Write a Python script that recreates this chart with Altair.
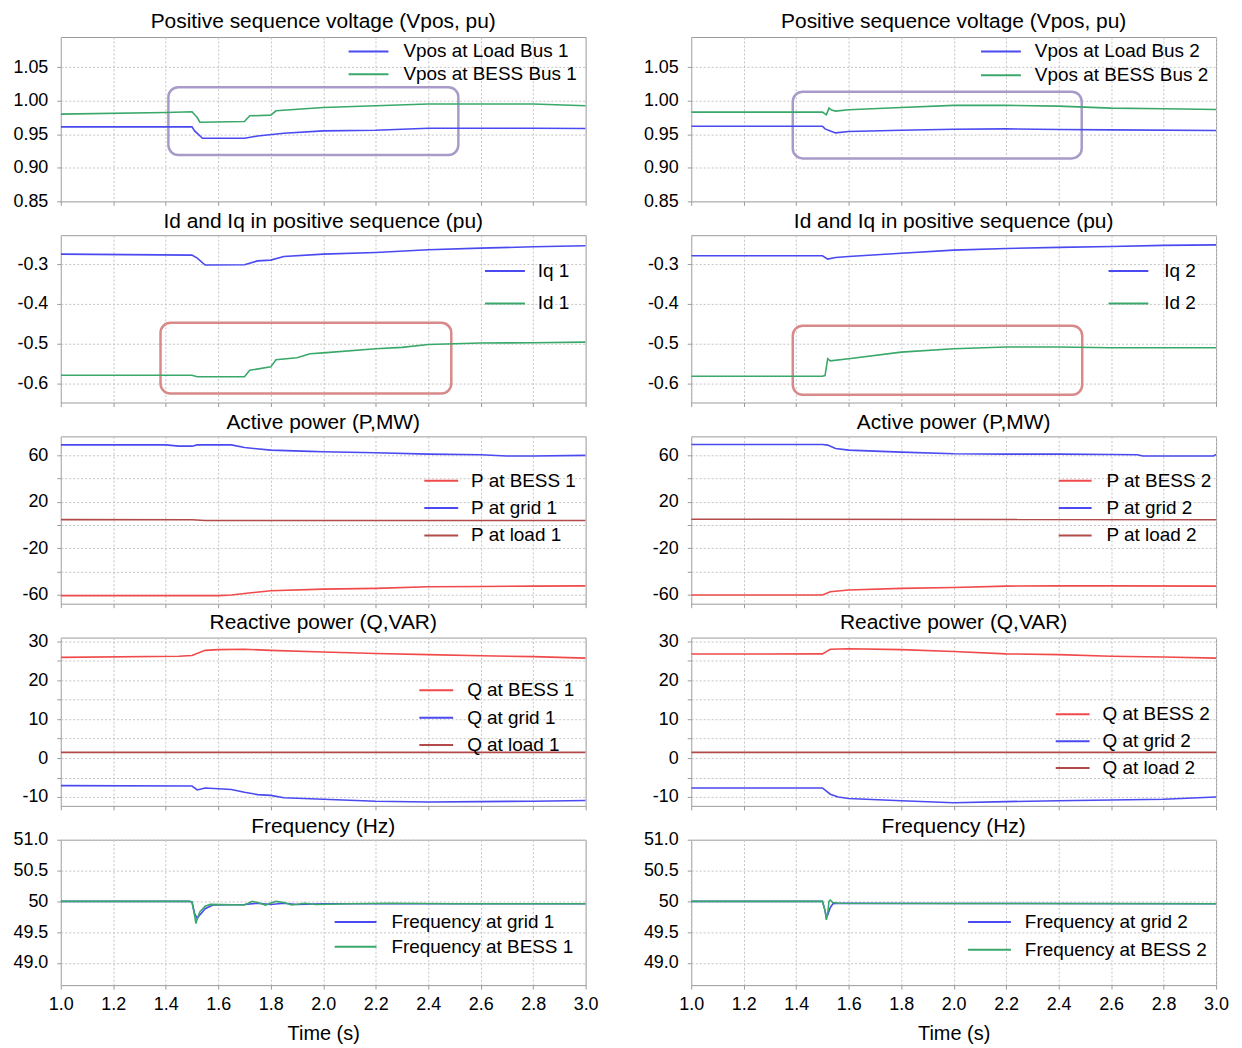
import altair as alt
import pandas as pd

FONT = "Liberation Sans"
BLUE = "#4a4af0"
GREEN = "#3aa86a"
RED = "#f04a4a"
DRED = "#b24a4a"
BOX_P = "#a99bc9"
BOX_R = "#d88a8a"
MINUS = "\u2212"

x_ticks = [1.0, 1.2, 1.4, 1.6, 1.8, 2.0, 2.2, 2.4, 2.6, 2.8, 3.0]

# ---------------- Positive sequence voltage ----------------
t_vl1 = [1.0, 1.5, 1.51, 1.54, 1.70, 1.75, 1.85, 2.0, 2.2, 2.4, 2.6, 2.8, 3.0]
v_load1 = [0.961, 0.961, 0.955, 0.944, 0.944, 0.9475, 0.9515, 0.955, 0.956, 0.959, 0.959, 0.959, 0.9585]
t_vb1 = [1.0, 1.4, 1.5, 1.52, 1.53, 1.70, 1.72, 1.80, 1.82, 2.0, 2.2, 2.4, 2.6, 2.8, 3.0]
v_bess1 = [0.980, 0.9825, 0.9835, 0.975, 0.968, 0.969, 0.9775, 0.9785, 0.985, 0.990, 0.9925, 0.995, 0.995, 0.995, 0.9925]

t_vl2 = [1.0, 1.5, 1.51, 1.53, 1.55, 1.6, 1.8, 2.0, 2.2, 2.4, 2.6, 3.0]
v_load2 = [0.962, 0.962, 0.958, 0.955, 0.952, 0.954, 0.956, 0.9575, 0.958, 0.957, 0.9565, 0.9555]
t_vb2 = [1.0, 1.5, 1.515, 1.525, 1.535, 1.55, 1.6, 1.8, 2.0, 2.2, 2.4, 2.6, 2.8, 3.0]
v_bess2 = [0.983, 0.983, 0.979, 0.989, 0.986, 0.9845, 0.9865, 0.990, 0.993, 0.993, 0.992, 0.989, 0.988, 0.987]

# ---------------- Id / Iq ----------------
t_iq1 = [1.0, 1.5, 1.52, 1.55, 1.7, 1.75, 1.8, 1.85, 2.0, 2.2, 2.4, 2.6, 2.8, 3.0]
iq1 = [-0.275, -0.2775, -0.285, -0.3025, -0.3017, -0.292, -0.290, -0.281, -0.275, -0.271, -0.2642, -0.26, -0.2567, -0.254]
t_id1 = [1.0, 1.5, 1.52, 1.7, 1.72, 1.8, 1.82, 1.9, 1.95, 2.0, 2.2, 2.3, 2.4, 2.5, 2.6, 2.8, 3.0]
id1 = [-0.579, -0.579, -0.583, -0.583, -0.5667, -0.558, -0.54, -0.535, -0.525, -0.523, -0.5125, -0.509, -0.502, -0.50, -0.4983, -0.4975, -0.496]

t_iq2 = [1.0, 1.5, 1.52, 1.55, 1.6, 1.8, 2.0, 2.2, 2.4, 2.6, 2.8, 3.0]
iq2 = [-0.279, -0.279, -0.2875, -0.2833, -0.2808, -0.273, -0.265, -0.261, -0.258, -0.256, -0.253, -0.2517]
t_id2 = [1.0, 1.5, 1.51, 1.52, 1.53, 1.6, 1.8, 2.0, 2.2, 2.4, 2.6, 2.8, 3.0]
id2 = [-0.5817, -0.5817, -0.58, -0.5375, -0.543, -0.5375, -0.521, -0.5125, -0.5083, -0.5083, -0.51, -0.51, -0.51]

# ---------------- Active power ----------------
t_pb1 = [1.0, 1.6, 1.65, 1.7, 1.8, 2.0, 2.2, 2.4, 2.6, 2.8, 3.0]
p_bess1 = [-60.6, -60.6, -60.0, -58.7, -56.4, -55.0, -54.4, -53.0, -52.7, -52.4, -52.2]
t_pg1 = [1.0, 1.4, 1.45, 1.5, 1.52, 1.65, 1.7, 1.8, 1.95, 2.0, 2.2, 2.4, 2.6, 2.7, 2.8, 3.0]
p_grid1 = [68.7, 68.7, 67.6, 67.6, 68.7, 68.7, 66.4, 64.2, 63.1, 62.8, 62.0, 60.8, 60.3, 59.2, 59.2, 59.7]
t_pl1 = [1.0, 1.5, 1.55, 3.0]
p_load1 = [4.6, 4.5, 3.9, 3.9]

t_pb2 = [1.0, 1.5, 1.53, 1.6, 1.8, 2.0, 2.2, 2.4, 2.6, 3.0]
p_bess2 = [-60.0, -60.0, -57.2, -55.8, -54.4, -53.6, -52.4, -52.2, -52.2, -52.4]
t_pg2 = [1.0, 1.5, 1.52, 1.55, 1.6, 1.8, 2.0, 2.2, 2.4, 2.6, 2.7, 2.72, 2.99, 3.0]
p_grid2 = [69.0, 69.0, 68.5, 65.6, 64.2, 62.5, 61.1, 60.8, 60.8, 60.5, 60.3, 59.2, 59.2, 60.4]
t_pl2 = [1.0, 3.0]
p_load2 = [4.9, 4.6]

# ---------------- Reactive power ----------------
t_qb1 = [1.0, 1.45, 1.5, 1.55, 1.6, 1.7, 1.8, 2.0, 2.2, 2.4, 2.6, 2.8, 3.0]
q_bess1 = [25.9, 26.2, 26.4, 27.7, 27.9, 28.0, 27.7, 27.3, 26.9, 26.6, 26.3, 26.1, 25.7]
t_qg1 = [1.0, 1.5, 1.52, 1.55, 1.6, 1.65, 1.7, 1.75, 1.8, 1.85, 2.0, 2.2, 2.4, 2.6, 2.8, 3.0]
q_grid1 = [-7.1, -7.2, -8.2, -7.7, -7.9, -8.1, -8.8, -9.4, -9.6, -10.2, -10.6, -11.1, -11.3, -11.2, -11.1, -10.9]
t_ql1 = [1.0, 3.0]
q_load1 = [1.45, 1.45]

t_qb2 = [1.0, 1.5, 1.53, 1.6, 1.8, 2.0, 2.2, 2.4, 2.6, 2.8, 3.0]
q_bess2 = [26.75, 26.8, 28.0, 28.1, 27.9, 27.4, 26.8, 26.6, 26.2, 26.0, 25.7]
t_qg2 = [1.0, 1.5, 1.53, 1.56, 1.6, 1.8, 2.0, 2.2, 2.4, 2.6, 2.8, 3.0]
q_grid2 = [-7.7, -7.7, -9.3, -10.0, -10.4, -11.0, -11.5, -11.2, -11.0, -10.8, -10.6, -10.0]
t_ql2 = [1.0, 3.0]
q_load2 = [1.45, 1.45]

# ---------------- Frequency ----------------
t_fg1 = [1.0, 1.49, 1.5, 1.51, 1.52, 1.53, 1.55, 1.58, 1.7, 1.75, 1.8, 1.85, 1.9, 2.0, 2.5, 3.0]
f_grid1 = [50.0, 50.0, 49.99, 49.8, 49.72, 49.78, 49.88, 49.94, 49.95, 49.97, 49.95, 49.97, 49.95, 49.96, 49.96, 49.96]
t_fb1 = [1.0, 1.49, 1.5, 1.51, 1.515, 1.52, 1.53, 1.55, 1.57, 1.7, 1.73, 1.75, 1.78, 1.82, 1.85, 1.88, 1.93, 1.97, 2.1, 2.25, 2.5, 3.0]
f_bess1 = [50.0, 50.0, 49.99, 49.77, 49.64, 49.72, 49.83, 49.92, 49.95, 49.94, 50.0, 49.98, 49.94, 50.0, 49.98, 49.94, 49.97, 49.95, 49.96, 49.97, 49.96, 49.96]

t_fg2 = [1.0, 1.5, 1.51, 1.515, 1.52, 1.53, 1.54, 1.56, 2.0, 3.0]
f_grid2 = [50.0, 50.0, 49.85, 49.74, 49.78, 49.9, 49.96, 49.97, 49.965, 49.96]
t_fb2 = [1.0, 1.5, 1.51, 1.515, 1.52, 1.525, 1.53, 1.54, 1.56, 2.0, 3.0]
f_bess2 = [50.0, 50.0, 49.85, 49.70, 49.80, 50.0, 50.02, 49.98, 49.97, 49.965, 49.96]

# annotation boxes (time from, time to, value low, value high)
box_v1 = [1.41, 2.515, 0.919, 1.020]
box_v2 = [1.387, 2.488, 0.914, 1.0135]
box_i1 = [1.38, 2.488, -0.625, -0.4475]
box_i2 = [1.387, 2.49, -0.628, -0.455]


def panel(title, series, ydom, yaxis_kw, height, leg, title_offset,
          bottom=False, box=None, box_color=None):
    names = [s[0] for s in series]
    colors = [s[3] for s in series]
    cscale = alt.Scale(domain=names, range=colors)
    if bottom:
        xaxis = alt.Axis(values=x_ticks, grid=True, labels=True, format=".1f",
                         title="Time (s)", titleFontSize=20, titleFont=FONT,
                         titleFontWeight="normal", titleColor="black",
                         titlePadding=11, labelPadding=6, labelFlush=False)
    else:
        xaxis = alt.Axis(values=x_ticks, grid=True, labels=False, title=None)
    yaxis = alt.Axis(title=None, grid=True, labelPadding=9, **yaxis_kw)
    xs = alt.Scale(domain=[1.0, 3.0], nice=False, zero=False)
    ys = alt.Scale(domain=ydom, nice=False, zero=False)
    legend = alt.Legend(
        orient="none", legendX=leg["x"], legendY=leg["y"], title=None,
        symbolType="stroke", symbolSize=leg["size"], symbolStrokeWidth=2,
        labelFontSize=19, labelFont=FONT, labelColor="black",
        labelOffset=leg["lo"], rowPadding=leg["rp"], padding=0,
        symbolOffset=0, direction="vertical", labelLimit=400, clipHeight=19,
    )
    layers = []
    if box is not None:
        bdf = pd.DataFrame({"t": [box[0]], "t2": [box[1]], "v": [box[2]], "v2": [box[3]]})
        layers.append(
            alt.Chart(bdf).mark_rect(fillOpacity=0, stroke=box_color, strokeWidth=2.5,
                                     cornerRadius=10).encode(
                x=alt.X("t:Q", scale=xs, axis=xaxis), x2="t2:Q",
                y=alt.Y("v:Q", scale=ys, axis=yaxis), y2="v2:Q")
        )
    for name, ts, vs, col, w in series:
        df = pd.DataFrame({"t": ts, "v": vs, "s": [name] * len(ts)})
        layers.append(
            alt.Chart(df).mark_line(strokeWidth=w, clip=True).encode(
                x=alt.X("t:Q", scale=xs, axis=xaxis),
                y=alt.Y("v:Q", scale=ys, axis=yaxis),
                color=alt.Color("s:N", scale=cscale, legend=legend, sort=names),
            )
        )
    return alt.layer(*layers).properties(
        width=527, height=height,
        title=alt.TitleParams(text=title, fontSize=21, font=FONT, fontWeight="normal",
                              color="black", anchor="middle", frame="group",
                              baseline="bottom", offset=title_offset),
    )


vpos_ax = dict(values=[0.85, 0.90, 0.95, 1.00, 1.05], format=".2f")
id_ax = dict(values=[-0.6, -0.5, -0.4, -0.3],
             labelExpr=f"replace(format(datum.value, '.1f'), '{MINUS}', '-')")
p_ax = dict(values=[-60, -40, -20, 0, 20, 40, 60],
            labelExpr=f"abs(datum.value) % 40 == 20 ? replace(datum.label, '{MINUS}', '-') : ''")
q_ax = dict(values=[-10, -5, 0, 5, 10, 15, 20, 25, 30],
            labelExpr=f"datum.value % 10 == 0 ? replace(datum.label, '{MINUS}', '-') : ''")
f_ax = dict(values=[49.0, 49.5, 50.0, 50.5, 51.0],
            labelExpr="datum.value == 50 ? '50' : format(datum.value, '.1f')")

H = [165, 168, 168, 169, 146]
TOFF = [-16, -18, -18, -22, -27]
ID_DOM = [-0.6475, -0.2275]

L = [
    panel("Positive sequence voltage (Vpos, pu)",
          [("Vpos at Load Bus 1", t_vl1, v_load1, BLUE, 1.6),
           ("Vpos at BESS Bus 1", t_vb1, v_bess1, GREEN, 1.6)],
          [0.85, 1.095], vpos_ax, H[0],
          dict(x=288, y=5, size=1600, lo=14, rp=3), TOFF[0], box=box_v1, box_color=BOX_P),
    panel("Id and Iq in positive sequence (pu)",
          [("Iq 1", t_iq1, iq1, BLUE, 1.6), ("Id 1", t_id1, id1, GREEN, 1.6)],
          ID_DOM, id_ax, H[1],
          dict(x=425, y=26.5, size=1600, lo=12, rp=12.5), TOFF[1], box=box_i1, box_color=BOX_R),
    panel("Active power (P,MW)",
          [("P at BESS 1", t_pb1, p_bess1, RED, 1.6), ("P at grid 1", t_pg1, p_grid1, BLUE, 1.6),
           ("P at load 1", t_pl1, p_load1, DRED, 1.6)],
          [-67.5, 76], p_ax, H[2],
          dict(x=364, y=35, size=1156, lo=12, rp=7.5), TOFF[2]),
    panel("Reactive power (Q,VAR)",
          [("Q at BESS 1", t_qb1, q_bess1, RED, 1.6), ("Q at grid 1", t_qg1, q_grid1, BLUE, 1.6),
           ("Q at load 1", t_ql1, q_load1, DRED, 1.6)],
          [-12.3, 31], q_ax, H[3],
          dict(x=359, y=43.5, size=1156, lo=13, rp=7.5), TOFF[3]),
    panel("Frequency (Hz)",
          [("Frequency at grid 1", t_fg1, f_grid1, BLUE, 1.6),
           ("Frequency at BESS 1", t_fb1, f_bess1, GREEN, 1.6)],
          [48.64, 51.0], f_ax, H[4],
          dict(x=274, y=73, size=1764, lo=14, rp=5), TOFF[4], bottom=True),
]

R = [
    panel("Positive sequence voltage (Vpos, pu)",
          [("Vpos at Load Bus 2", t_vl2, v_load2, BLUE, 1.6),
           ("Vpos at BESS Bus 2", t_vb2, v_bess2, GREEN, 1.6)],
          [0.85, 1.095], vpos_ax, H[0],
          dict(x=290, y=5, size=1600, lo=13, rp=4), TOFF[0], box=box_v2, box_color=BOX_P),
    panel("Id and Iq in positive sequence (pu)",
          [("Iq 2", t_iq2, iq2, BLUE, 1.6), ("Id 2", t_id2, id2, GREEN, 1.6)],
          ID_DOM, id_ax, H[1],
          dict(x=418, y=26.5, size=1600, lo=15, rp=12.5), TOFF[1], box=box_i2, box_color=BOX_R),
    panel("Active power (P,MW)",
          [("P at BESS 2", t_pb2, p_bess2, RED, 1.6), ("P at grid 2", t_pg2, p_grid2, BLUE, 1.6),
           ("P at load 2", t_pl2, p_load2, DRED, 1.6)],
          [-67.5, 76], p_ax, H[2],
          dict(x=368, y=35, size=1089, lo=14, rp=7.5), TOFF[2]),
    panel("Reactive power (Q,VAR)",
          [("Q at BESS 2", t_qb2, q_bess2, RED, 1.6), ("Q at grid 2", t_qg2, q_grid2, BLUE, 1.6),
           ("Q at load 2", t_ql2, q_load2, DRED, 1.6)],
          [-12.3, 31], q_ax, H[3],
          dict(x=365, y=67.5, size=1156, lo=12, rp=7), TOFF[3]),
    panel("Frequency (Hz)",
          [("Frequency at grid 2", t_fg2, f_grid2, BLUE, 1.6),
           ("Frequency at BESS 2", t_fb2, f_bess2, GREEN, 1.6)],
          [48.64, 51.0], f_ax, H[4],
          dict(x=277, y=73, size=1849, lo=13, rp=8), TOFF[4], bottom=True),
]

panels = []
for a, b in zip(L, R):
    panels += [a, b]

chart = alt.concat(*panels, columns=2, spacing={"row": 34, "column": 106},
                   bounds="flush").resolve_scale(color="independent").resolve_legend(
    color="independent").properties(
    padding={"left": 4, "top": 0, "right": 4, "bottom": 1}
).configure_axis(
    labelFont=FONT, labelFontSize=18, labelColor="black",
    gridColor="#c4c4c4", gridDash=[2, 2], gridWidth=1,
    tickColor="#999999", tickSize=4, domain=False,
).configure_view(stroke="#9a9a9a", strokeWidth=1)

chart.save("out.html", embed_options={"renderer": "svg", "actions": False})
